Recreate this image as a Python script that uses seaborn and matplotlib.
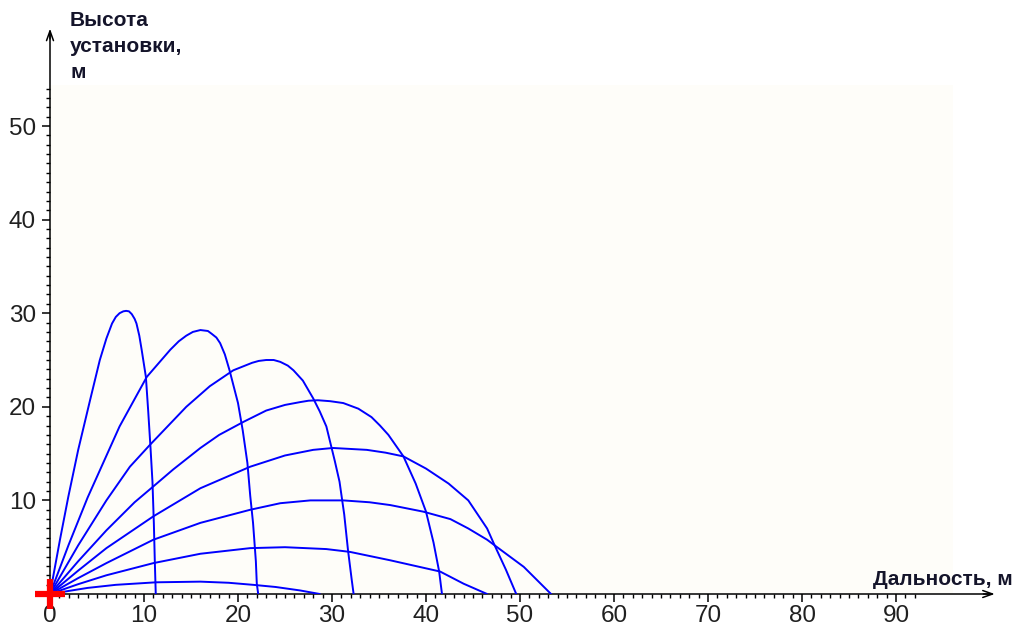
import numpy as np
import pandas as pd
import seaborn as sns
import matplotlib.pyplot as plt
from matplotlib import font_manager as fm
from matplotlib.ticker import FixedLocator
from matplotlib.patches import Rectangle

# trajectories (x = range m, y = height m)
x80 = [0, 1.06, 1.95, 3.0, 4.26, 5.3, 6.0, 6.6, 7.0, 7.4, 7.8, 8.1, 8.4, 8.7, 9.0, 9.2, 9.5, 9.75, 10.2,
       10.45, 10.7, 10.9, 11.05, 11.15, 11.25]
y80 = [0, 5.8, 10.4, 15.4, 20.7, 25.0, 27.3, 28.9, 29.6, 30.0, 30.2, 30.25, 30.2, 29.9, 29.4, 28.9, 27.6,
       26.1, 23.2, 19.5, 15.5, 12.0, 7.5, 3.5, 0]
x70 = [0, 2, 4, 7.4, 10.3, 12.8, 13.7, 14.5, 15.2, 16.0, 16.8, 17.2, 17.7, 18.1, 18.6, 19.1, 20.0, 20.5,
       21.0, 21.3, 21.6, 21.9, 22.0, 22.15]
y70 = [0, 5.3, 10.3, 17.9, 23.2, 26.1, 27.0, 27.6, 28.0, 28.2, 28.1, 27.8, 27.4, 26.8, 25.6, 23.9, 20.4,
       17.5, 14.0, 10.5, 7.6, 3.5, 1.1, 0]
x60 = [0, 3, 6, 8.5, 10.6, 14.5, 17, 19.5, 21.5, 22.2, 23.0, 23.8, 24.5, 25.3, 25.9, 26.9, 28.0, 28.7, 29.4,
       30.3, 30.8, 31.3, 31.7, 32.1, 32.3]
y60 = [0, 5.2, 10.0, 13.6, 15.9, 20.0, 22.2, 23.9, 24.7, 24.9, 25.0, 25.0, 24.8, 24.4, 23.9, 22.8, 20.9,
       19.5, 17.9, 14.2, 12.0, 8.5, 4.7, 1.5, 0]
x50 = [0, 3, 6, 9, 11, 13.1, 16, 18, 20.6, 23, 25, 26.6, 27.5, 28.5, 29.8, 31.2, 32.8, 34.2, 35.1, 36.0,
       37.6, 38.9, 40.0, 40.8, 41.4, 41.7]
y50 = [0, 3.5, 6.8, 9.8, 11.5, 13.3, 15.6, 17.0, 18.4, 19.6, 20.2, 20.5, 20.65, 20.7, 20.6, 20.4, 19.8,
       18.9, 18.0, 17.0, 14.7, 11.8, 8.8, 5.5, 2.4, 0]
x40 = [0, 3, 6, 11, 16, 21.3, 25, 28, 30.1, 33.7, 35.7, 37.6, 40.0, 42.4, 44.5, 46.5, 47.3, 48.5, 49.6]
y40 = [0, 2.5, 4.9, 8.3, 11.3, 13.6, 14.8, 15.4, 15.6, 15.4, 15.1, 14.7, 13.4, 11.8, 10.0, 7.0, 5.2, 2.6, 0]
x30 = [0, 3, 6, 11, 16, 21.3, 24.5, 27.7, 31.2, 34.0, 36.2, 39.7, 42.6, 44.5, 46.5, 47.3, 50.4, 53.3]
y30 = [0, 1.7, 3.3, 5.8, 7.6, 9.0, 9.7, 10.0, 10.0, 9.8, 9.5, 8.8, 8.0, 7.0, 5.8, 5.2, 2.9, 0]
x20 = [0, 3, 6, 11, 16, 21.3, 25, 29.4, 31.9, 36.2, 41.5, 44.0, 46.5]
y20 = [0, 1.05, 2.0, 3.3, 4.3, 4.9, 5.0, 4.8, 4.5, 3.6, 2.4, 1.1, 0]
x10 = [0, 2, 4, 7, 11.3, 16, 19, 21.6, 24, 26.6, 28.7]
y10 = [0, 0.33, 0.65, 0.98, 1.25, 1.32, 1.2, 0.98, 0.75, 0.38, 0]

origin_x = [0]
origin_y = [0]

x_major = [0, 10, 20, 30, 40, 50, 60, 70, 80, 90]
y_major = [10, 20, 30, 40, 50]

curves = {80: (x80, y80), 70: (x70, y70), 60: (x60, y60), 50: (x50, y50),
          40: (x40, y40), 30: (x30, y30), 20: (x20, y20), 10: (x10, y10)}
df = pd.concat([pd.DataFrame({'angle': a, 'x': xs, 'y': ys}) for a, (xs, ys) in curves.items()],
               ignore_index=True)

sns.set_style('white')
names = {f.name for f in fm.fontManager.ttflist}
tick_font = 'Liberation Sans Narrow' if 'Liberation Sans Narrow' in names else 'Liberation Sans'
plt.rcParams['font.family'] = ['Liberation Sans', 'DejaVu Sans']

W, H = 1016, 628
fig = plt.figure(figsize=(W / 100, H / 100), dpi=100)
ppu_x, ppu_y = 9.4, 9.36
ax = fig.add_axes([50 / W, 34 / H, 100 * ppu_x / W, 60 * ppu_y / H])
ax.set_xlim(0, 100)
ax.set_ylim(0, 60)
ax.set_facecolor('white')

# faint cream plotting area
ax.add_patch(Rectangle((0, 0), 96.1, 54.4, facecolor='#fefdf9', edgecolor='none', zorder=0))

sns.lineplot(data=df, x='x', y='y', units='angle', estimator=None, sort=False,
             color='#0000ff', linewidth=1.4, ax=ax, legend=False, zorder=3)

ax.plot(origin_x, origin_y, marker='+', color='#ff0000', markersize=22, markeredgewidth=4.5,
        clip_on=False, zorder=5)

for s in ['top', 'right']:
    ax.spines[s].set_visible(False)
for s in ['left', 'bottom']:
    ax.spines[s].set_color('black')
    ax.spines[s].set_linewidth(1.1)

ax.annotate('', xy=(100.8, 0), xytext=(99, 0), xycoords='data',
            arrowprops=dict(arrowstyle='->,head_length=0.7,head_width=0.25', color='black', lw=1.1),
            annotation_clip=False)
ax.annotate('', xy=(0, 60.7), xytext=(0, 59), xycoords='data',
            arrowprops=dict(arrowstyle='->,head_length=0.7,head_width=0.25', color='black', lw=1.1),
            annotation_clip=False)

ax.xaxis.set_major_locator(FixedLocator(x_major))
ax.xaxis.set_minor_locator(FixedLocator(np.arange(0, 93)))
ax.yaxis.set_major_locator(FixedLocator(y_major))
ax.yaxis.set_minor_locator(FixedLocator(np.arange(0, 55)))
ax.tick_params(which='major', direction='out', length=6, width=1.1, color='black')
ax.tick_params(which='minor', direction='out', length=3, width=1.0, color='black')
ax.tick_params(axis='x', which='major', pad=2)
ax.tick_params(axis='y', which='major', pad=4)
ax.xaxis.set_ticks_position('bottom')
ax.yaxis.set_ticks_position('left')
for lab in ax.get_xticklabels() + ax.get_yticklabels():
    lab.set_fontfamily(tick_font)
    lab.set_fontsize(17.5)
    lab.set_color('#202020')
ax.set_xlabel('')
ax.set_ylabel('')

fig.text(70 / W, 1 - 11 / H, 'Высота\nустановки,\nм', ha='left', va='top',
         fontsize=15, fontweight='bold', color='#14142a', linespacing=1.45)
fig.text(1013 / W, (H - 585) / H, 'Дальность, м', ha='right', va='baseline',
         fontsize=15, fontweight='bold', color='#14142a')

fig.savefig('out.png', dpi=100)
